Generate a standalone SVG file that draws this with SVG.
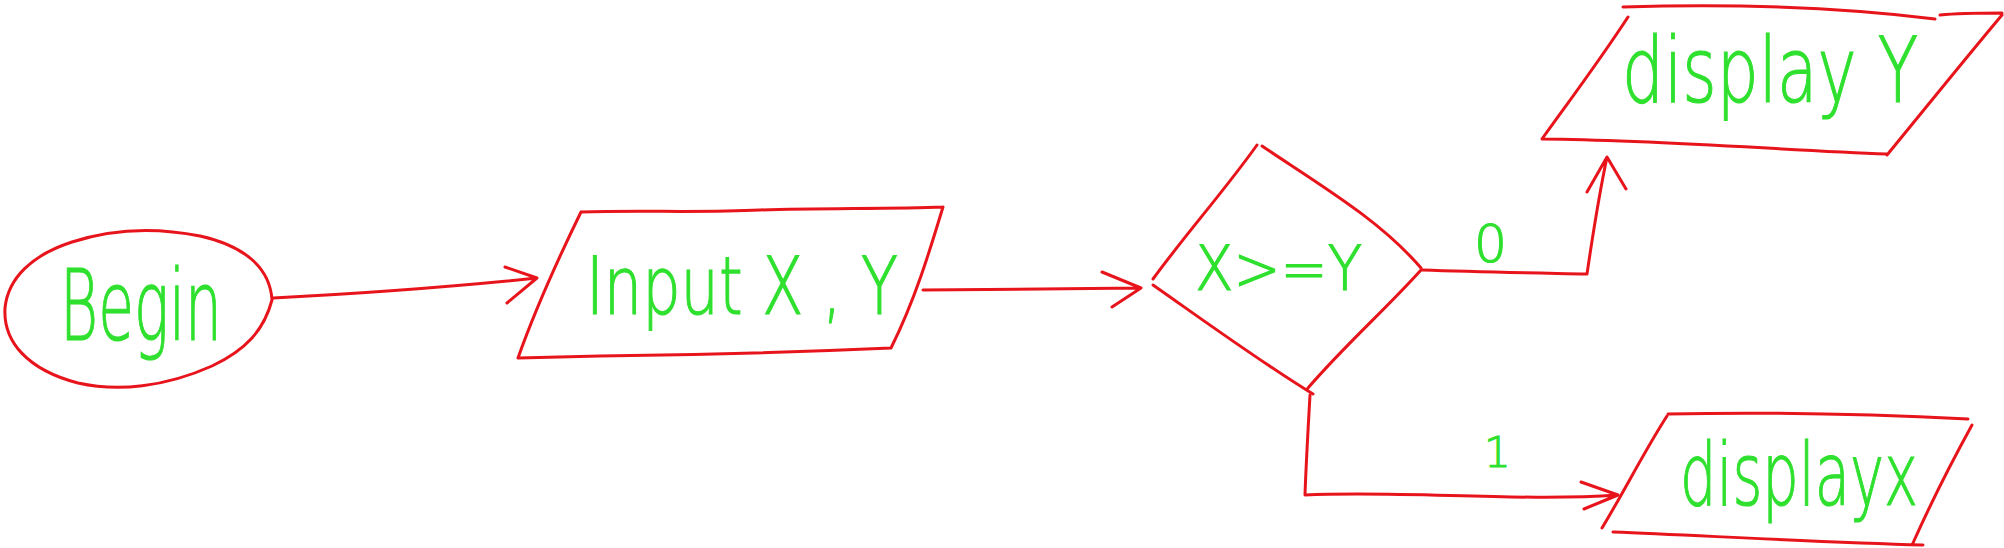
<svg xmlns="http://www.w3.org/2000/svg" width="2004" height="548" viewBox="0 0 2004 548">
<style>
.ln{fill:none;stroke:#e8141c;stroke-width:3;stroke-linecap:round;stroke-linejoin:round}
.tx{fill:#2fe02f;stroke:#2fe02f;stroke-width:1.2;font-family:"DejaVu Sans","Liberation Sans",sans-serif;font-weight:200}
</style>
<rect width="2004" height="548" fill="#fff"/>
<g id="begin">
<path class="ln" d="M272,300 C270,268 245,246 200,236 C160,228 115,228 72,242 C32,255 8,278 5,308 C3,342 28,370 78,383 C118,392 165,387 212,366 C246,350 264,330 272,300"/>
<text class="tx" x="60" y="340" font-size="98" textLength="162" lengthAdjust="spacingAndGlyphs">Begin</text>
</g>
<g id="input">
<path class="ln" d="M581,212 C640,210 700,213 760,210 C820,208 890,209 943,207 M943,207 C930,250 915,300 891,348 M891,348 C800,352 700,355 600,356 L518,358 M518,358 C535,310 560,255 581,212"/>
<text class="tx" x="586" y="314" font-size="80" textLength="312" lengthAdjust="spacingAndGlyphs">Input X , Y</text>
</g>
<g id="decision">
<path class="ln" d="M1153,279 C1185,235 1225,190 1257,145 M1262,146 C1320,185 1380,220 1421,268 M1421,270 C1385,310 1345,345 1308,388 M1153,285 C1210,325 1265,365 1313,394"/>
<text class="tx" x="1195" y="290" font-size="62" textLength="167" lengthAdjust="spacingAndGlyphs">X&gt;=Y</text>
</g>
<g id="displayY">
<path class="ln" d="M1623,7 C1720,4 1830,6 1935,19 M1940,15 C1960,13 1985,13 2002,13 M2002,15 C1960,65 1920,115 1887,155 M1887,154 C1780,150 1660,140 1542,139 M1542,139 C1570,100 1600,60 1628,17"/>
<text class="tx" x="1622" y="102" font-size="90" textLength="296" lengthAdjust="spacingAndGlyphs">display Y</text>
</g>
<g id="displayX">
<path class="ln" d="M1668,414 C1760,412 1870,414 1968,419 M1972,425 C1950,465 1930,505 1913,543 M1923,545 C1820,542 1710,536 1613,532 M1602,528 C1625,490 1645,450 1667,416"/>
<text class="tx" x="1680" y="505" font-size="88" textLength="238" lengthAdjust="spacingAndGlyphs">displayx</text>
</g>
<g id="connectors">
<path class="ln" d="M273,298 C350,294 440,288 537,278 M505,267 L537,278 L507,303"/>
<path class="ln" d="M923,290 C990,289 1060,289 1141,288 M1102,272 L1141,288 L1112,307"/>
<path class="ln" d="M1422,270 C1480,272 1540,273 1587,274 C1592,240 1598,200 1607,157 M1587,192 L1607,157 L1626,189"/>
<path class="ln" d="M1310,395 C1308,430 1306,465 1305,495 C1400,490 1520,502 1618,495 M1581,482 L1618,495 L1584,509"/>
<text class="tx" x="1474" y="262" font-size="52">0</text>
<text class="tx" x="1484" y="467" font-size="42">1</text>
</g>
</svg>
